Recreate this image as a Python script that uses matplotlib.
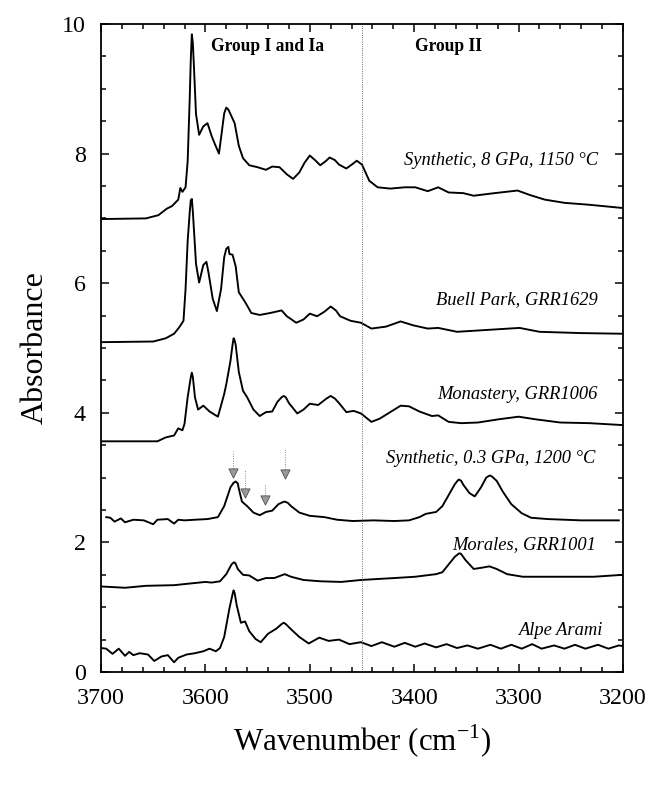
import numpy as np
import matplotlib
matplotlib.use("Agg")
import matplotlib.pyplot as plt
from matplotlib.ticker import MultipleLocator

# ---- spectra (wavenumber cm-1, absorbance) ----
synth8_wn = [3700, 3657, 3645, 3637, 3632, 3626, 3624, 3622, 3619, 3617, 3615, 3614,
             3613, 3612, 3611, 3609, 3606, 3602, 3598, 3594, 3591, 3587, 3584, 3582,
             3580, 3578, 3576, 3572, 3568, 3564, 3558, 3550, 3542, 3536, 3529, 3522,
             3516, 3510, 3505, 3500, 3495, 3490, 3485, 3481, 3476, 3472, 3465, 3459,
             3455, 3450, 3443, 3435, 3423, 3409, 3399, 3387, 3377, 3367, 3353, 3343,
             3323, 3301, 3289, 3275, 3256, 3232, 3200]
synth8_abs = [6.99, 7.00, 7.05, 7.15, 7.19, 7.29, 7.47, 7.41, 7.48, 7.88, 8.86, 9.45,
              9.84, 9.70, 9.35, 8.61, 8.29, 8.42, 8.47, 8.27, 8.15, 8.00, 8.37, 8.62,
              8.71, 8.68, 8.61, 8.47, 8.12, 7.93, 7.82, 7.79, 7.75, 7.80, 7.79, 7.68,
              7.61, 7.71, 7.86, 7.97, 7.90, 7.82, 7.88, 7.94, 7.90, 7.83, 7.77, 7.84,
              7.89, 7.83, 7.58, 7.48, 7.46, 7.48, 7.48, 7.42, 7.48, 7.40, 7.39, 7.35,
              7.39, 7.43, 7.36, 7.29, 7.24, 7.21, 7.16]

buell_wn = [3700, 3650, 3638, 3630, 3625, 3621, 3619, 3617, 3615, 3614, 3613, 3612,
            3609, 3606, 3602, 3599, 3597, 3593, 3589, 3585, 3582, 3580, 3578, 3577,
            3574, 3571, 3568, 3562, 3556, 3548, 3538, 3527, 3522, 3513, 3506, 3500,
            3493, 3486, 3480, 3475, 3471, 3461, 3451, 3441, 3427, 3413, 3401, 3387,
            3377, 3359, 3339, 3319, 3299, 3280, 3240, 3200]
buell_abs = [5.09, 5.10, 5.15, 5.22, 5.32, 5.42, 5.91, 6.65, 7.10, 7.28, 7.30, 7.10,
             6.30, 6.01, 6.28, 6.33, 6.16, 5.76, 5.57, 5.91, 6.40, 6.53, 6.56, 6.45,
             6.44, 6.26, 5.86, 5.71, 5.54, 5.51, 5.54, 5.58, 5.49, 5.39, 5.44, 5.53,
             5.49, 5.56, 5.64, 5.58, 5.49, 5.42, 5.39, 5.30, 5.33, 5.41, 5.35, 5.30,
             5.31, 5.25, 5.27, 5.29, 5.31, 5.25, 5.23, 5.22]

monast_wn = [3700, 3646, 3638, 3630, 3626, 3622, 3620, 3617, 3614, 3613, 3612, 3610,
             3607, 3602, 3596, 3588, 3582, 3580, 3576, 3574, 3573, 3572, 3571, 3568,
             3564, 3560, 3554, 3548, 3542, 3536, 3531, 3527, 3525, 3523, 3520, 3512,
             3506, 3500, 3492, 3484, 3480, 3476, 3472, 3465, 3458, 3451, 3441, 3433,
             3423, 3413, 3405, 3395, 3383, 3377, 3367, 3355, 3339, 3319, 3300, 3284,
             3260, 3232, 3200]
monast_abs = [3.56, 3.56, 3.62, 3.65, 3.76, 3.73, 3.83, 4.24, 4.55, 4.62, 4.55, 4.24,
              4.05, 4.11, 4.02, 3.94, 4.29, 4.44, 4.80, 5.05, 5.15, 5.12, 5.05, 4.63,
              4.34, 4.24, 4.05, 3.95, 4.01, 4.02, 4.17, 4.24, 4.26, 4.24, 4.15, 3.99,
              4.05, 4.14, 4.12, 4.22, 4.26, 4.22, 4.15, 4.01, 4.03, 3.99, 3.86, 3.91,
              4.01, 4.11, 4.10, 4.02, 3.95, 3.96, 3.86, 3.84, 3.85, 3.90, 3.94, 3.90,
              3.85, 3.84, 3.81]

synth03_wn = [3695, 3691, 3687, 3681, 3677, 3669, 3659, 3650, 3646, 3636, 3630, 3626,
              3620, 3610, 3598, 3588, 3582, 3576, 3573, 3571, 3569, 3568, 3565, 3560,
              3554, 3548, 3542, 3536, 3530, 3526, 3524, 3521, 3518, 3510, 3500, 3486,
              3474, 3459, 3439, 3419, 3405, 3395, 3389, 3379, 3373, 3367, 3361, 3358,
              3357, 3355, 3353, 3347, 3342, 3336, 3331, 3328, 3327, 3325, 3321, 3315,
              3307, 3297, 3288, 3272, 3240, 3204]
synth03_abs = [2.39, 2.38, 2.32, 2.37, 2.31, 2.35, 2.34, 2.28, 2.35, 2.36, 2.29, 2.35,
               2.34, 2.35, 2.36, 2.39, 2.56, 2.85, 2.92, 2.94, 2.91, 2.83, 2.63, 2.56,
               2.46, 2.42, 2.47, 2.49, 2.59, 2.62, 2.63, 2.61, 2.56, 2.46, 2.41, 2.39,
               2.35, 2.33, 2.34, 2.33, 2.34, 2.39, 2.44, 2.47, 2.56, 2.73, 2.90, 2.96,
               2.97, 2.95, 2.89, 2.76, 2.71, 2.85, 3.00, 3.03, 3.03, 3.01, 2.95, 2.78,
               2.59, 2.45, 2.38, 2.36, 2.34, 2.34]

morales_wn = [3700, 3677, 3657, 3630, 3606, 3600, 3594, 3586, 3580, 3575, 3573, 3572,
              3571, 3569, 3564, 3558, 3550, 3542, 3534, 3524, 3518, 3506, 3490, 3470,
              3451, 3419, 3399, 3379, 3373, 3367, 3361, 3357, 3356, 3355, 3351, 3343,
              3335, 3328, 3321, 3311, 3296, 3260, 3228, 3200]
morales_abs = [1.32, 1.30, 1.33, 1.34, 1.38, 1.39, 1.38, 1.40, 1.51, 1.66, 1.69, 1.69,
               1.67, 1.59, 1.50, 1.49, 1.41, 1.45, 1.45, 1.51, 1.47, 1.42, 1.40, 1.39,
               1.42, 1.45, 1.47, 1.51, 1.54, 1.66, 1.78, 1.83, 1.83, 1.82, 1.73, 1.59,
               1.61, 1.63, 1.59, 1.51, 1.47, 1.47, 1.47, 1.50]

alpe_wn = [3700, 3695, 3689, 3683, 3677, 3673, 3669, 3663, 3655, 3649, 3642, 3636,
           3630, 3626, 3618, 3610, 3602, 3596, 3590, 3586, 3582, 3577, 3574, 3573,
           3572, 3570, 3566, 3562, 3558, 3552, 3547, 3540, 3532, 3527, 3525, 3523,
           3518, 3510, 3501, 3491, 3482, 3472, 3462, 3451, 3441, 3431, 3419, 3409,
           3399, 3390, 3379, 3369, 3359, 3349, 3339, 3327, 3317, 3307, 3297, 3287,
           3278, 3266, 3256, 3246, 3236, 3224, 3214, 3204, 3200]
alpe_abs = [0.37, 0.36, 0.28, 0.36, 0.25, 0.31, 0.26, 0.29, 0.27, 0.17, 0.24, 0.26,
            0.15, 0.22, 0.27, 0.29, 0.32, 0.36, 0.32, 0.37, 0.54, 0.98, 1.20, 1.26,
            1.22, 1.03, 0.76, 0.78, 0.63, 0.51, 0.46, 0.59, 0.67, 0.74, 0.76, 0.74,
            0.66, 0.54, 0.44, 0.53, 0.48, 0.50, 0.43, 0.46, 0.40, 0.46, 0.39, 0.45,
            0.39, 0.44, 0.38, 0.43, 0.37, 0.41, 0.36, 0.42, 0.36, 0.42, 0.36, 0.43,
            0.36, 0.41, 0.36, 0.42, 0.36, 0.42, 0.36, 0.41, 0.40]

spectra = [
    (synth8_wn, synth8_abs),
    (buell_wn, buell_abs),
    (monast_wn, monast_abs),
    (synth03_wn, synth03_abs),
    (morales_wn, morales_abs),
    (alpe_wn, alpe_abs),
]

# sample labels: text, wavenumber of right edge, absorbance
sample_labels = ["Synthetic, 8 GPa, 1150 \u00b0C", "Buell Park, GRR1629",
                 "Monastery, GRR1006", "Synthetic, 0.3 GPa, 1200 \u00b0C",
                 "Morales, GRR1001", "Alpe Arami"]
label_wn = [3224, 3224, 3224, 3226, 3226, 3220]
label_abs = [7.90, 5.74, 4.29, 3.29, 1.97, 0.64]

# arrows on the 0.3 GPa spectrum
arrow_wn = [3574, 3562, 3543, 3524]
arrow_top = [3.41, 3.12, 2.90, 3.44]
arrow_tip = [3.07, 2.76, 2.66, 3.05]

group_boundary = 3450

plt.rcParams['font.family'] = ['Liberation Serif', 'DejaVu Serif']
plt.rcParams['mathtext.fontset'] = 'custom'
plt.rcParams['mathtext.rm'] = 'Liberation Serif'

fig = plt.figure(figsize=(9, 11), dpi=72)
ax = fig.add_axes([101 / 648, 1 - 672 / 792, 522 / 648, 648 / 792])

for wn, ab in spectra:
    ax.plot(wn, ab, color='black', lw=1.9, solid_joinstyle='round')

ax.axvline(group_boundary, color='0.35', lw=0.9, ls=(0, (1, 1.5)))

# arrows
ax.vlines(arrow_wn, arrow_tip, arrow_top, colors='0.45', lw=0.9, linestyles=':')
ax.scatter(arrow_wn, arrow_tip, marker='v', s=85, facecolor='0.6',
           edgecolor='0.3', linewidths=0.8, zorder=3)

for txt, x, y in zip(sample_labels, label_wn, label_abs):
    ax.text(x, y, txt, ha='right', va='center', fontsize=18.5, style='italic')

ax.text(3540, 9.65, 'Group I and Ia', ha='center', va='center', fontsize=17.5, fontweight='bold')
ax.text(3367, 9.65, 'Group II', ha='center', va='center', fontsize=17.5, fontweight='bold')

ax.set_xlim(3700, 3200)
ax.set_ylim(0, 10)
ax.xaxis.set_major_locator(MultipleLocator(100))
ax.xaxis.set_minor_locator(MultipleLocator(20))
ax.yaxis.set_major_locator(MultipleLocator(2))
ax.yaxis.set_minor_locator(MultipleLocator(0.5))
ax.tick_params(which='both', direction='in', top=True, right=True, width=1.5)
ax.tick_params(which='major', length=8, labelsize=24)
ax.tick_params(which='minor', length=5)
ax.tick_params(axis='x', which='major', pad=16)
ax.tick_params(axis='y', which='major', pad=15)
for s in ax.spines.values():
    s.set_linewidth(1.8)

ax.set_xlabel('Wavenumber (cm$^{-1}$)', fontsize=31, labelpad=14)
ax.set_ylabel('Absorbance', fontsize=32, labelpad=12)

fig.savefig('out.png', dpi=72)
